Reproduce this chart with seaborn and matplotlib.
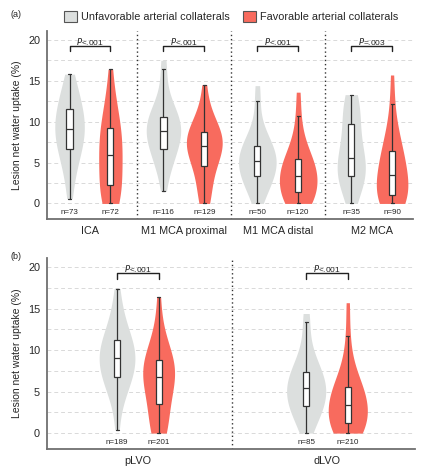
import numpy as np
import pandas as pd
import seaborn as sns
import matplotlib.pyplot as plt
from matplotlib.patches import Patch

# values (25 representative values per group, sorted)
top_cats = ['ICA', 'M1 MCA proximal', 'M1 MCA distal', 'M2 MCA']
bot_cats = ['pLVO', 'dLVO']
groups = ['Unfavorable arterial collaterals', 'Favorable arterial collaterals']

ica_unfav = [0.6, 2.5, 3.8, 4.8, 5.6, 6.2, 6.6, 7.1, 7.6, 8.0, 8.4, 8.8, 9.1,
             9.5, 9.9, 10.3, 10.7, 11.1, 11.6, 12.1, 12.6, 13.2, 13.9, 14.8, 15.8]
ica_fav = [0.0, 0.0, 0.0, 0.5, 1.1, 1.7, 2.2, 2.9, 3.6, 4.3, 4.9, 5.4, 5.9,
           6.5, 7.1, 7.6, 8.1, 8.6, 9.2, 9.8, 10.5, 11.3, 12.3, 13.8, 16.4]
m1p_unfav = [1.5, 3.6, 4.6, 5.3, 5.8, 6.3, 6.7, 7.2, 7.6, 8.0, 8.3, 8.6, 8.9,
             9.2, 9.5, 9.8, 10.1, 10.3, 10.6, 11.0, 11.5, 12.2, 13.3, 16.4, 17.5]
m1p_fav = [0.0, 0.0, 1.2, 2.2, 3.2, 4.0, 4.6, 5.2, 5.7, 6.1, 6.5, 6.8, 7.0,
           7.3, 7.6, 7.9, 8.1, 8.4, 8.7, 9.0, 9.4, 9.9, 10.7, 12.0, 14.5]
m1d_unfav = [0.0, 1.0, 1.7, 2.3, 2.7, 3.0, 3.3, 3.7, 4.1, 4.4, 4.7, 5.0, 5.2,
             5.5, 5.8, 6.1, 6.4, 6.7, 7.0, 7.4, 7.9, 8.6, 9.6, 12.5, 14.4]
m1d_fav = [0.0, 0.0, 0.0, 0.0, 0.4, 0.9, 1.4, 1.8, 2.2, 2.5, 2.8, 3.1, 3.4,
           3.7, 4.0, 4.4, 4.7, 5.0, 5.4, 5.9, 6.5, 7.3, 8.5, 10.7, 13.6]
m2_unfav = [0.0, 1.0, 1.8, 2.4, 2.8, 3.1, 3.3, 3.7, 4.1, 4.5, 4.9, 5.2, 5.6,
            6.1, 6.7, 7.3, 8.0, 8.8, 9.7, 10.4, 11.1, 11.8, 12.4, 12.9, 13.3]
m2_fav = [0.0, 0.0, 0.0, 0.0, 0.3, 0.6, 1.0, 1.4, 1.8, 2.3, 2.7, 3.1, 3.5,
          3.9, 4.4, 4.9, 5.4, 5.9, 6.4, 7.0, 7.7, 8.6, 9.9, 12.2, 15.7]
plvo_unfav = [0.4, 3.4, 4.6, 5.4, 6.0, 6.4, 6.75, 7.2, 7.7, 8.1, 8.4, 8.7, 9.05,
              9.4, 9.8, 10.1, 10.5, 10.8, 11.2, 11.7, 12.3, 13.0, 14.0, 15.3, 17.4]
plvo_fav = [0.0, 0.0, 0.0, 0.9, 1.8, 2.7, 3.5, 4.2, 4.8, 5.4, 5.9, 6.3, 6.7,
            7.1, 7.5, 7.8, 8.1, 8.4, 8.8, 9.2, 9.7, 10.4, 11.4, 13.0, 16.4]
dlvo_unfav = [0.0, 1.0, 1.7, 2.3, 2.7, 3.0, 3.3, 3.7, 4.1, 4.5, 4.8, 5.1, 5.4,
              5.7, 6.0, 6.4, 6.7, 7.0, 7.4, 7.9, 8.5, 9.3, 10.5, 13.4, 14.4]
dlvo_fav = [0.0, 0.0, 0.0, 0.0, 0.4, 0.8, 1.25, 1.6, 2.0, 2.4, 2.7, 3.1, 3.4,
            3.8, 4.1, 4.5, 4.8, 5.1, 5.5, 6.0, 6.7, 7.6, 8.9, 11.7, 15.7]

top_n = [(73, 72), (116, 129), (50, 120), (35, 90)]
bot_n = [(189, 201), (85, 210)]
top_p = ['<.001', '<.001', '<.001', '=.003']
bot_p = ['<.001', '<.001']

top_data = [(ica_unfav, ica_fav), (m1p_unfav, m1p_fav), (m1d_unfav, m1d_fav), (m2_unfav, m2_fav)]
bot_data = [(plvo_unfav, plvo_fav), (dlvo_unfav, dlvo_fav)]

GRAY = '#dcdfde'
RED = '#f86b5e'
pal = {groups[0]: GRAY, groups[1]: RED}
white = {groups[0]: 'white', groups[1]: 'white'}


def to_long(cats, data):
    rows = []
    for c, pair in zip(cats, data):
        for g, vals in zip(groups, pair):
            for v in vals:
                rows.append((c, g, v))
    return pd.DataFrame(rows, columns=['cat', 'grp', 'val'])


sns.set_style('white')
plt.rcParams['font.family'] = ['Liberation Sans', 'DejaVu Sans']

fig = plt.figure(figsize=(4.24, 4.74), dpi=100)
ax1 = fig.add_axes([0.111, 0.538, 0.863, 0.397])
ax2 = fig.add_axes([0.111, 0.053, 0.868, 0.403])


def panel(ax, cats, data, ns, ps, width, vgap, bgap, xlim):
    df = to_long(cats, data)
    sns.violinplot(data=df, x='cat', y='val', hue='grp', order=cats, hue_order=groups,
                   palette=pal, saturation=1, density_norm='area', cut=0, inner=None,
                   linewidth=0, width=width, gap=vgap, bw_adjust=1.1, legend=False, ax=ax)
    sns.boxplot(data=df, x='cat', y='val', hue='grp', order=cats, hue_order=groups,
                palette=white, saturation=1, width=width, gap=bgap, whis=1.5,
                showfliers=False, linecolor='#333333', linewidth=0.9, legend=False, ax=ax)
    off = width / 4
    for i, (n, p) in enumerate(zip(ns, ps)):
        for j, k in enumerate(n):
            ax.text(i + (j * 2 - 1) * off, -1.1, f'n={k}', ha='center', va='center', fontsize=5.8)
        x0, x1 = i - off, i + off
        ax.plot([x0, x0, x1, x1], [18.6, 19.3, 19.3, 18.6], color='#222222', lw=1.0)
        ax.text(i, 19.85, f'$P${p}', ha='center', va='center', fontsize=6)
    for b in np.arange(0.5, len(cats) - 0.5, 1):
        ax.axvline(b, color='#333333', ls=(0, (1, 2)), lw=1)
    ax.set_xlim(*xlim)
    ax.set_ylim(-1.9, 21.1)
    ax.set_yticks([0, 5, 10, 15, 20])
    ax.set_yticks(np.arange(2.5, 20, 5), minor=True)
    ax.grid(axis='y', which='both', color='#d9d9d9', ls=(0, (4, 3)), lw=0.7)
    ax.set_axisbelow(True)
    ax.set_xlabel('')
    ax.set_ylabel('Lesion net water uptake (%)', fontsize=7.5)
    sns.despine(ax=ax)
    for s in ['left', 'bottom']:
        ax.spines[s].set_color('#707070')
        ax.spines[s].set_linewidth(1.3)
    ax.tick_params(axis='both', which='major', labelsize=7.8, length=3, color='#707070', pad=2)
    ax.tick_params(axis='y', which='minor', length=0)


panel(ax1, top_cats, top_data, top_n, top_p, 0.87, 0.08, 0.85, (-0.457, 3.44))
panel(ax2, bot_cats, bot_data, bot_n, bot_p, 0.44, 0.06, 0.855, (-0.48, 1.466))

handles = [Patch(facecolor=GRAY, edgecolor='#555555', lw=0.8),
           Patch(facecolor=RED, edgecolor='#555555', lw=0.8)]
fig.legend(handles, groups, loc='center', bbox_to_anchor=(0.545, 0.965), ncol=2,
           frameon=False, fontsize=7.8, handlelength=1.2, handleheight=1.2,
           handletextpad=0.4, columnspacing=1.2)
fig.text(0.024, 0.97, '(a)', fontsize=6.5, va='center')
fig.text(0.024, 0.458, '(b)', fontsize=6.5, va='center')

fig.savefig('out.png', dpi=100)
